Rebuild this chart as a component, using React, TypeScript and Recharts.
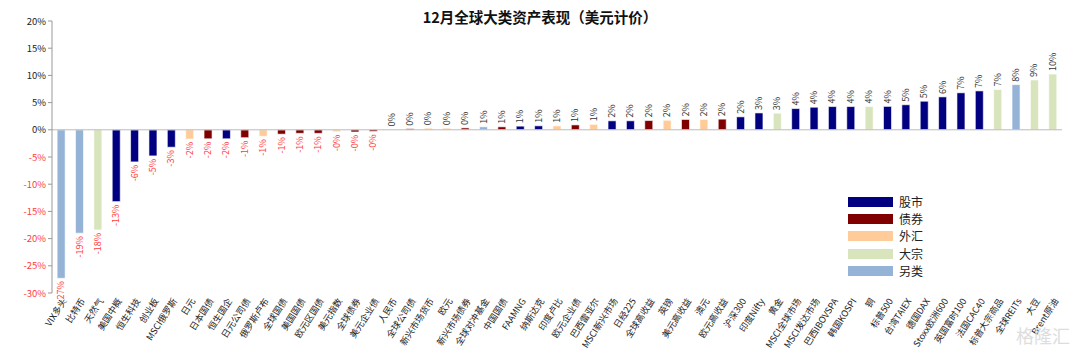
import React from "react";
import {
  BarChart,
  Bar,
  XAxis,
  YAxis,
  Cell,
  LabelList,
  ReferenceLine,
} from "recharts";

// asset names, in chart order
const categories = [
  "VIX多头", "比特币", "天然气", "美国中概", "恒生科技", "创业板", "MSCI俄罗斯", "日元",
  "日本国债", "恒生国企", "日元公司债", "俄罗斯卢布", "全球国债", "美国国债", "欧元区国债",
  "美元指数", "全球债券", "美元企业债", "人民币", "全球公司债", "新兴市场货币", "欧元",
  "新兴市场债券", "全球对冲基金", "中国国债", "FAAMNG", "纳斯达克", "印度卢比", "欧元企业债",
  "巴西雷亚尔", "MSCI新兴市场", "日经225", "全球高收益", "英镑", "美元高收益", "澳元",
  "欧元高收益", "沪深300", "印度Nifty", "黄金", "MSCI全球市场", "MSCI发达市场", "巴西IBOVSPA",
  "韩国KOSPI", "铜", "标普500", "台湾TAIEX", "德国DAX", "Stoxx欧洲600", "英国富时100",
  "法国CAC40", "标普大宗商品", "全球REITs", "大豆", "Brent原油",
];

// monthly return, %
const returns = [
  -27.3, -19.0, -18.4, -13.2, -5.9, -4.8, -3.2, -1.7,
  -1.65, -1.65, -1.45, -1.2, -0.8, -0.65, -0.65,
  -0.35, -0.4, -0.3, 0.05, 0.2, 0.3, 0.3,
  0.35, 0.55, 0.55, 0.67, 0.73, 0.73, 0.9,
  1.0, 1.65, 1.65, 1.7, 1.75, 1.9, 1.9,
  1.96, 2.38, 3.1, 3.05, 3.9, 4.15, 4.27,
  4.27, 4.27, 4.3, 4.6, 5.25, 6.05, 6.8,
  7.15, 7.4, 8.3, 9.15, 10.25,
];

// asset class of each category
const classes = [
  "另类", "另类", "大宗", "股市", "股市", "股市", "股市", "外汇",
  "债券", "股市", "债券", "外汇", "债券", "债券", "债券",
  "外汇", "债券", "债券", "外汇", "债券", "外汇", "外汇",
  "债券", "另类", "债券", "股市", "股市", "外汇", "债券",
  "外汇", "股市", "股市", "债券", "外汇", "债券", "外汇",
  "债券", "股市", "股市", "大宗", "股市", "股市", "股市",
  "股市", "大宗", "股市", "股市", "股市", "股市", "股市",
  "股市", "大宗", "另类", "大宗", "大宗",
];

const legendNames = ["股市", "债券", "外汇", "大宗", "另类"];
const legendColors = ["#000080", "#800000", "#FFCC99", "#D8E4BC", "#95B3D7"];

const yTicks = [-30, -25, -20, -15, -10, -5, 0, 5, 10, 15, 20];

const data = categories.map((name, i) => ({
  name,
  value: returns[i],
  cls: classes[i],
}));

const colorOf = (cls) => legendColors[legendNames.indexOf(cls)];

const FONT = "'Microsoft YaHei', 'Noto Sans CJK SC', sans-serif";

const YTick = ({ x, y, payload }) => (
  <text
    x={x}
    y={y}
    dy={3.5}
    textAnchor="end"
    fontSize={9.5}
    fontFamily={FONT}
    fill={payload.value < 0 ? "#FF3B3B" : "#222"}
  >
    {payload.value}%
  </text>
);

const XTick = ({ x, y, payload }) => (
  <g transform={`translate(${x + 6},${y})`}>
    <text
      textAnchor="end"
      fontSize={9}
      fontFamily={FONT}
      fill="#222"
      transform="rotate(-57)"
    >
      {payload.value}
    </text>
  </g>
);

const ValueLabel = (props) => {
  const { x, y, width, height, value } = props;
  const cx = x + width / 2 + 3;
  const top = Math.min(y, y + height);
  const bottom = Math.max(y, y + height);
  const neg = value < 0;
  const ly = neg ? bottom + 3 : top - 3;
  return (
    <text
      transform={`translate(${cx},${ly}) rotate(-90)`}
      textAnchor={neg ? "end" : "start"}
      fontSize={9}
      fontFamily={FONT}
      fill={neg ? "#FF3B3B" : "#333"}
    >
      {value.toFixed(0)}%
    </text>
  );
};

export default function App() {
  return (
    <div style={{ position: "absolute", left: 0, top: 0, width: 1080, height: 354, background: "#fff" }}>
      <div
        style={{
          position: "absolute",
          top: 6,
          left: 0,
          width: 1080,
          textAlign: "center",
          fontFamily: FONT,
          fontWeight: "bold",
          fontSize: 14.5,
          color: "#111",
        }}
      >
        12月全球大类资产表现（美元计价）
      </div>
      <BarChart
        width={1080}
        height={354}
        data={data}
        margin={{ top: 21, right: 18, bottom: 0, left: 0 }}
        barCategoryGap="28%"
      >
        <YAxis
          width={52}
          domain={[-30, 20]}
          ticks={yTicks}
          interval={0}
          tick={YTick}
          axisLine={{ stroke: "#999" }}
          tickLine={{ stroke: "#999" }}
          tickSize={4}
        />
        <XAxis
          dataKey="name"
          height={61}
          interval={0}
          tick={XTick}
          axisLine={false}
          tickLine={false}
        />
        <ReferenceLine y={0} stroke="#bbb" />
        <Bar dataKey="value" isAnimationActive={false} stroke="#fff" strokeWidth={0.6}>
          {data.map((d) => (
            <Cell key={d.name} fill={colorOf(d.cls)} />
          ))}
          <LabelList dataKey="value" content={ValueLabel} />
        </Bar>
      </BarChart>
      <div style={{ position: "absolute", left: 848, top: 193, fontFamily: FONT }}>
        {legendNames.map((n, i) => (
          <div key={n} style={{ display: "flex", alignItems: "center", height: 17.4 }}>
            <div style={{ width: 45, height: 10, background: legendColors[i], marginRight: 6 }} />
            <span style={{ fontSize: 12, lineHeight: "14px", color: "#222" }}>{n}</span>
          </div>
        ))}
      </div>
      <div
        style={{
          position: "absolute",
          right: 10,
          bottom: 6,
          fontFamily: FONT,
          fontSize: 18,
          color: "#ddd",
        }}
      >
        格隆汇
      </div>
    </div>
  );
}
